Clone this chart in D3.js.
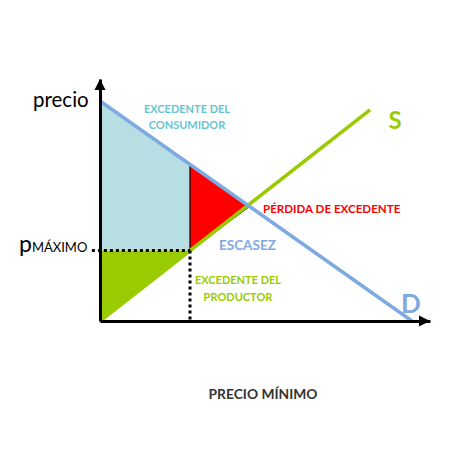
<!DOCTYPE html>
<html><head><meta charset="utf-8">
<script src="https://cdn.jsdelivr.net/npm/d3@7"></script>
<style>body{margin:0;background:#fff}svg{display:block}text{font-family:Lato,"Open Sans",sans-serif}</style>
</head><body><svg id="c" width="458" height="458"></svg>
<script>
// data (quantity, price units)
const demand = [[0,100],[104,0]];
const supply = [[0,0],[90,96]];
const priceCeiling = 32;
const qSupplied = 30;   // supply at ceiling
const equilibrium = [49.8, 52.1];
const xDomain = [0,110];
const yDomain = [0,110];
const labels = {
  yAxis: "precio", ceilingP: "p", ceilingSub: "MÁXIMO",
  cs: ["EXCEDENTE DEL","CONSUMIDOR"], dwl: "PÉRDIDA DE EXCEDENTE",
  shortage: "ESCASEZ", ps: ["EXCEDENTE DEL","PRODUCTOR"],
  s: "S", d: "D", title: "PRECIO MÍNIMO"
};

const svg = d3.select("#c");
const x = d3.scaleLinear().domain(xDomain).range([100,430]);
const y = d3.scaleLinear().domain(yDomain).range([321,79]);
const demandAt = q => demand[0][1] + (demand[1][1]-demand[0][1])*(q-demand[0][0])/(demand[1][0]-demand[0][0]);
const pD = demandAt(qSupplied);
const P = pts => pts.map(d=>[x(d[0]),y(d[1])]).join("L");

// areas
svg.append("path").attr("d","M"+P([[0,demand[0][1]],[qSupplied,pD],[qSupplied,priceCeiling],[0,priceCeiling]])+"Z").attr("fill","#b7dee3");
svg.append("path").attr("d","M"+P([[0,0],[qSupplied,priceCeiling],[0,priceCeiling]])+"Z").attr("fill","#99cc00");
svg.append("path").attr("d","M"+P([[qSupplied,pD],equilibrium,[qSupplied,priceCeiling]])+"Z").attr("fill","#ff0000").attr("stroke","#000").attr("stroke-width",1.2);

// curves
const line = d3.line().x(d=>x(d[0])).y(d=>y(d[1]));
svg.append("path").attr("d",line(supply)).attr("stroke","#99cc00").attr("stroke-width",3.5).attr("fill","none");
svg.append("path").attr("d",line(demand)).attr("stroke","#7ea9e1").attr("stroke-width",3.5).attr("fill","none");

// dotted lines
svg.append("path").attr("d",line([[-2.7,priceCeiling],[qSupplied,priceCeiling]])).attr("stroke","#000").attr("stroke-width",3).attr("stroke-dasharray","3,3").attr("fill","none");
svg.append("path").attr("d",line([[qSupplied,priceCeiling],[qSupplied,0]])).attr("stroke","#000").attr("stroke-width",3).attr("stroke-dasharray","3,3").attr("fill","none");

// axes
svg.append("g").attr("transform",`translate(0,${y(0)})`).call(d3.axisBottom(x).tickValues([]).tickSizeOuter(0));
svg.append("g").attr("transform",`translate(${x(0)},0)`).call(d3.axisLeft(y).tickValues([]).tickSizeOuter(0));
svg.selectAll(".domain").attr("stroke","#000").attr("stroke-width",3);
// arrowheads
svg.append("path").attr("d",`M${x(xDomain[1])},${y(0)}l-11,-5.5l0,11Z`).attr("fill","#000");
svg.append("path").attr("d",`M${x(0)},${y(yDomain[1])}l-5.5,11l11,0Z`).attr("fill","#000");

// labels
const T=(t,px,py,opt={})=>svg.append("text").attr("x",px).attr("y",py).text(t)
  .attr("font-size",opt.size||11).attr("font-weight",opt.w||"bold").attr("fill",opt.c||"#000").attr("text-anchor",opt.a||"start");
T(labels.yAxis,33,107,{size:20.5,w:"normal"});
const pt = svg.append("text").attr("x",19).attr("y",252).attr("font-size",23).attr("fill","#000");
pt.append("tspan").text(labels.ceilingP);
pt.append("tspan").text(labels.ceilingSub).attr("font-size",13);
T(labels.cs[0],187,113,{c:"#66c5d0",a:"middle"});
T(labels.cs[1],187,129,{c:"#66c5d0",a:"middle"});
T(labels.dwl,263,213,{c:"#ff0000",size:11.6});
T(labels.shortage,219,250,{c:"#7ea9e1",size:13.5,w:"bold"});
T(labels.ps[0],238,284,{c:"#99cc00",a:"middle"});
T(labels.ps[1],238,301,{c:"#99cc00",a:"middle"});
T(labels.s,395,129,{c:"#99cc00",size:24,w:"bold",a:"middle"});
T(labels.d,411,313,{c:"#7ea9e1",size:26,w:"bold",a:"middle"});
T(labels.title,263,399,{c:"#333",size:13.8,a:"middle"});
</script></body></html>
